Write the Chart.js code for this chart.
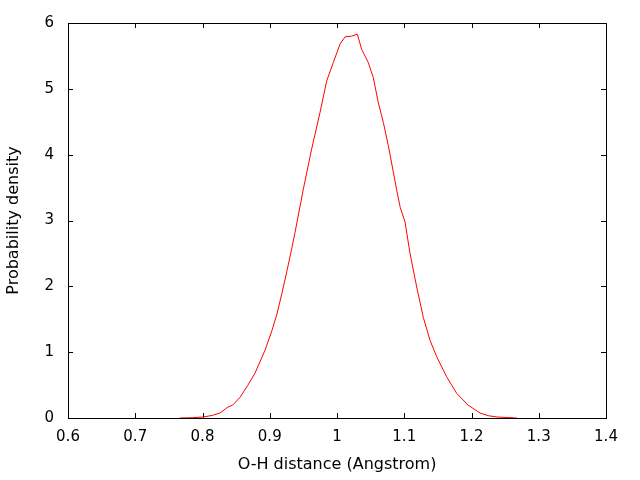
<!DOCTYPE html>
<html>
<head>
<meta charset="utf-8">
<script src="https://cdn.jsdelivr.net/npm/chart.js@4"></script>
<style>
  html, body { margin: 0; padding: 0; background: #fff; }
  canvas { display: block; }
</style>
</head>
<body>
<canvas id="c" width="640" height="480"></canvas>
<script>
// O-H distance (Angstrom)
const distances = [0.7665, 0.785, 0.8007, 0.815, 0.826, 0.838, 0.845, 0.856, 0.867, 0.878, 0.893, 0.9033, 0.911, 0.918, 0.9257, 0.933, 0.9376, 0.95, 0.9624, 0.9747, 0.9847, 0.9945, 1.0045, 1.012, 1.0219, 1.0302, 1.0367, 1.0465, 1.054, 1.0614, 1.0689, 1.0763, 1.089, 1.094, 1.1011, 1.1086, 1.1185, 1.1283, 1.1383, 1.1483, 1.1631, 1.178, 1.1948, 1.2126, 1.225, 1.238, 1.2677];
// Probability density
const densities = [0.0, 0.005, 0.015, 0.04, 0.076, 0.167, 0.197, 0.318, 0.49, 0.68, 1.03, 1.33, 1.59, 1.89, 2.24, 2.59, 2.82, 3.48, 4.09, 4.64, 5.12, 5.40, 5.68, 5.79, 5.80, 5.83, 5.60, 5.40, 5.17, 4.79, 4.49, 4.14, 3.45, 3.2, 2.98, 2.5, 1.99, 1.53, 1.18, 0.93, 0.626, 0.374, 0.197, 0.076, 0.035, 0.015, 0.0];
const xTickValues = [0.6, 0.7, 0.8, 0.9, 1.0, 1.1, 1.2, 1.3, 1.4];
const yTickValues = [0, 1, 2, 3, 4, 5, 6];
const xTitle = "O-H distance (Angstrom)";
const yTitle = "Probability density";

const points = distances.map((d, i) => ({ x: d, y: densities[i] }));
const FONT = "'DejaVu Sans', sans-serif";

const frame = {
  id: 'frame',
  beforeDatasetsDraw(chart) {
    const { ctx, chartArea: a, scales } = chart;
    const L = 5;
    ctx.save();
    ctx.strokeStyle = '#000';
    ctx.lineWidth = 1;
    ctx.beginPath();
    xTickValues.forEach(v => {
      const px = Math.round(scales.x.getPixelForValue(v)) + 0.5;
      ctx.moveTo(px, a.bottom); ctx.lineTo(px, a.bottom - L);
      ctx.moveTo(px, a.top); ctx.lineTo(px, a.top + L);
    });
    yTickValues.forEach(v => {
      const py = Math.round(scales.y.getPixelForValue(v)) + 0.5;
      ctx.moveTo(a.left, py); ctx.lineTo(a.left + L, py);
      ctx.moveTo(a.right, py); ctx.lineTo(a.right - L, py);
    });
    ctx.stroke();
    ctx.strokeRect(Math.round(a.left) + 0.5, Math.round(a.top) + 0.5,
                   Math.round(a.right - a.left), Math.round(a.bottom - a.top));
    ctx.restore();
  }
};

new Chart(document.getElementById('c'), {
  type: 'line',
  data: {
    datasets: [{
      data: points,
      borderColor: '#ff0000',
      borderWidth: 1,
      pointRadius: 0,
      tension: 0,
      fill: false
    }]
  },
  options: {
    responsive: false,
    animation: false,
    layout: { padding: { top: 22, right: 34, left: 0, bottom: 0 } },
    plugins: { legend: { display: false }, tooltip: { enabled: false } },
    scales: {
      x: {
        type: 'linear',
        min: 0.6, max: 1.4,
        afterFit: s => { s.height = 62; },
        afterBuildTicks: s => { s.ticks = xTickValues.map(v => ({ value: v })); },
        grid: { display: false, drawTicks: false },
        border: { display: false },
        ticks: {
          padding: 10,
          color: '#000',
          font: { family: FONT, size: 15 },
          callback: v => String(Number(v.toFixed(1)))
        },
        title: {
          display: true, text: xTitle, color: '#000',
          font: { family: FONT, size: 16 },
          padding: { top: 0, bottom: 6 }
        }
      },
      y: {
        type: 'linear',
        min: 0, max: 6,
        afterFit: s => { s.width = 68; },
        afterBuildTicks: s => { s.ticks = yTickValues.map(v => ({ value: v })); },
        grid: { display: false, drawTicks: false },
        border: { display: false },
        ticks: {
          padding: 14,
          color: '#000',
          font: { family: FONT, size: 15 },
          callback: v => String(v)
        },
        title: {
          display: true, text: yTitle, color: '#000',
          font: { family: FONT, size: 16 },
          padding: { top: 4, bottom: 0 }
        }
      }
    }
  },
  plugins: [frame]
});
</script>
</body>
</html>
